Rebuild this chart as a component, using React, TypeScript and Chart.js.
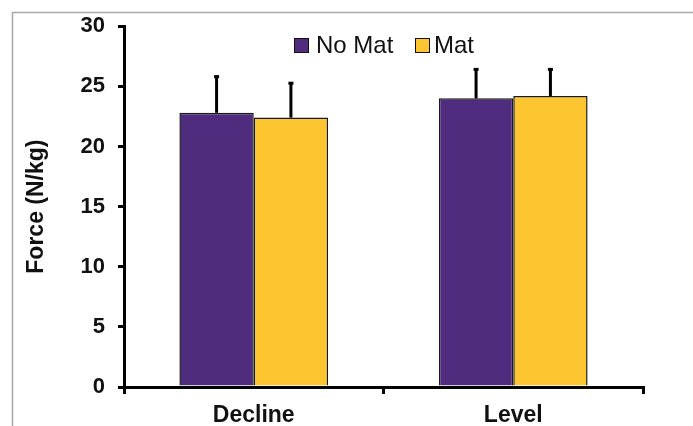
import React, { useEffect, useRef } from "react";
import { Chart, registerables } from "chart.js";

Chart.register(...registerables);

const categories = ["Decline", "Level"];
const seriesNames = ["No Mat", "Mat"];
const noMatValues = [22.8, 24.0];
const matValues = [22.4, 24.2];
const noMatErrors = [3.05, 2.45];
const matErrors = [2.9, 2.25];
const yTicks = [0, 5, 10, 15, 20, 25, 30];
const yTitle = "Force (N/kg)";

const PURPLE = "#4F2C7E";
const YELLOW = "#FDC530";
const FONT = "'Liberation Sans', Arial, sans-serif";

const frameAndErrors = {
  id: "frameAndErrors",
  beforeDraw(chart: any) {
    const ctx = chart.ctx;
    ctx.save();
    ctx.fillStyle = "#fff";
    ctx.fillRect(0, 0, chart.width, chart.height);
    ctx.strokeStyle = "#a8a8a8";
    ctx.lineWidth = 1.5;
    ctx.beginPath();
    ctx.moveTo(12, 12.5);
    ctx.lineTo(chart.width, 12.5);
    ctx.moveTo(12.5, 12);
    ctx.lineTo(12.5, chart.height);
    ctx.stroke();
    ctx.restore();
  },
  afterDatasetsDraw(chart: any) {
    const ctx = chart.ctx;
    const yScale = chart.scales.y;
    ctx.save();
    ctx.strokeStyle = "#000";
    ctx.fillStyle = "#000";
    chart.data.datasets.forEach((ds: any, di: number) => {
      const meta = chart.getDatasetMeta(di);
      meta.data.forEach((bar: any, i: number) => {
        const v = ds.data[i];
        const e = ds.errors[i];
        const yTop = yScale.getPixelForValue(v + e);
        ctx.strokeStyle = "#000";
        ctx.lineWidth = 3;
        ctx.beginPath();
        ctx.moveTo(bar.x, bar.y);
        ctx.lineTo(bar.x, yTop);
        ctx.stroke();
        ctx.fillStyle = "#000";
        ctx.fillRect(bar.x - 2.5, yTop - 1, 5, 3);
      });
    });
    // legend
    const items = [
      { label: seriesNames[0], color: PURPLE, boxX: 294, textX: 316 },
      { label: seriesNames[1], color: YELLOW, boxX: 415, textX: 434 },
    ];
    ctx.font = `24px ${FONT}`;
    ctx.textBaseline = "middle";
    ctx.textAlign = "left";
    items.forEach((it) => {
      ctx.fillStyle = it.color;
      ctx.fillRect(it.boxX, 38, 14, 14);
      ctx.strokeStyle = "#111";
      ctx.lineWidth = 1;
      ctx.strokeRect(it.boxX + 0.5, 38.5, 14, 14);
      ctx.fillStyle = "#111";
      ctx.fillText(it.label, it.textX, 46);
    });
    ctx.restore();
  },
};

export default function App() {
  const ref = useRef<HTMLCanvasElement | null>(null);
  useEffect(() => {
    if (!ref.current) return;
    const chart = new Chart(ref.current, {
      type: "bar",
      data: {
        labels: categories,
        datasets: [
          {
            label: seriesNames[0],
            data: noMatValues,
            errors: noMatErrors,
            backgroundColor: PURPLE,
            borderColor: "#1a1a1a",
            borderWidth: 1.5,
          } as any,
          {
            label: seriesNames[1],
            data: matValues,
            errors: matErrors,
            backgroundColor: YELLOW,
            borderColor: "#1a1a1a",
            borderWidth: 1.5,
          } as any,
        ],
      },
      options: {
        responsive: false,
        animation: false,
        devicePixelRatio: 1,
        layout: { padding: { top: 26, right: 50, bottom: 0, left: 0 } },
        datasets: { bar: { categoryPercentage: 0.573, barPercentage: 1.0 } },
        plugins: {
          legend: { display: false },
          tooltip: { enabled: false },
        },
        scales: {
          x: {
            offset: true,
            grid: {
              offset: true,
              drawOnChartArea: false,
              drawTicks: true,
              tickLength: 7,
              color: "#000",
              lineWidth: 3,
            },
            border: { display: true, color: "#000", width: 3 },
            ticks: {
              color: "#111",
              padding: 8,
              font: { family: FONT, size: 23, weight: "bold" },
            },
            afterFit(scale: any) {
              scale.height = 39;
            },
          },
          y: {
            min: 0,
            max: 30,
            afterBuildTicks(scale: any) {
              scale.ticks = yTicks.map((v) => ({ value: v }));
            },
            grid: {
              drawOnChartArea: false,
              drawTicks: true,
              tickLength: 6,
              color: "#000",
              lineWidth: 3,
            },
            border: { display: true, color: "#000", width: 3 },
            ticks: {
              color: "#111",
              padding: 13,
              font: { family: FONT, size: 22, weight: "bold" },
            },
            title: {
              display: true,
              text: yTitle,
              color: "#111",
              padding: { top: 23, bottom: 0 },
              font: { family: FONT, size: 23, weight: "bold" },
            },
            afterFit(scale: any) {
              scale.width = 124;
            },
          },
        },
      } as any,
      plugins: [frameAndErrors],
    });
    return () => chart.destroy();
  }, []);
  return (
    <div style={{ position: "absolute", left: 0, top: 0, width: 693, height: 426 }}>
      <canvas ref={ref} width={693} height={426} style={{ display: "block" }} />
    </div>
  );
}
